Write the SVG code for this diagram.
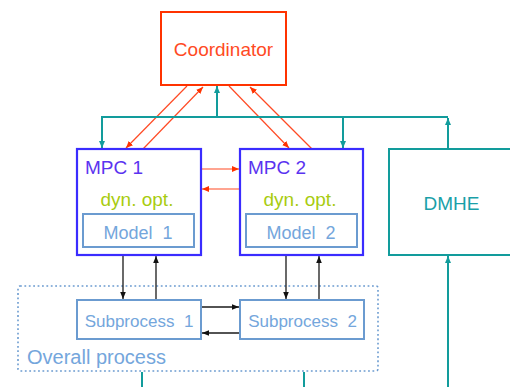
<svg xmlns="http://www.w3.org/2000/svg" width="510" height="387" viewBox="0 0 510 387">
  <style>
    .lbl { font-family: "Liberation Sans", Arial, sans-serif; }
    .coord { fill: #fff; stroke: #ff3300; stroke-width: 2; }
    .mpc { fill: #fff; stroke: #3a2cff; stroke-width: 2.2; }
    .model { fill: #fff; stroke: #6b9bd0; stroke-width: 2; }
    .dmhe { fill: #fff; stroke: #129c9c; stroke-width: 2; }
    .area { fill: none; stroke: #6b9bd0; stroke-width: 1.6; stroke-dasharray: 1.8 2.6; }
    .red { stroke: #ff4a24; stroke-width: 1.2; fill: none; }
    .teal { stroke: #129c9c; stroke-width: 2; fill: none; }
    .blk { stroke: #1a1a1a; stroke-width: 1.3; fill: none; }
  </style>
  <defs>
    <marker id="ahRed" markerUnits="userSpaceOnUse" markerWidth="8" markerHeight="8" refX="7" refY="4" orient="auto">
      <path d="M0,1 L7,4 L0,7 Z" fill="#ff3300"/>
    </marker>
    <marker id="ahTeal" markerUnits="userSpaceOnUse" markerWidth="8" markerHeight="8" refX="7" refY="4" orient="auto">
      <path d="M0,1 L7,4 L0,7 Z" fill="#129c9c"/>
    </marker>
    <marker id="ahBlk" markerUnits="userSpaceOnUse" markerWidth="8" markerHeight="8" refX="7" refY="4" orient="auto">
      <path d="M0,1.2 L7,4 L0,6.8 Z" fill="#111"/>
    </marker>
  </defs>

  <!-- process boundary -->
  <g id="overall-process">
    <rect class="area" x="18" y="286" width="360" height="85" rx="2"/>
    <text class="lbl" x="27" y="364" font-size="20" fill="#74a6dc">Overall process</text>
  </g>

  <g id="connectors">
    <!-- coordinator <-> local controllers -->
    <line class="red" x1="187" y1="86" x2="126" y2="148" marker-end="url(#ahRed)"/>
    <line class="red" x1="143" y1="149" x2="203" y2="87" marker-end="url(#ahRed)"/>
    <line class="red" x1="229" y1="86" x2="289" y2="148" marker-end="url(#ahRed)"/>
    <line class="red" x1="312" y1="149" x2="250" y2="87" marker-end="url(#ahRed)"/>
    <!-- controller to controller -->
    <line class="red" x1="202" y1="169" x2="239" y2="169" marker-end="url(#ahRed)"/>
    <line class="red" x1="239" y1="189" x2="202" y2="189" marker-end="url(#ahRed)"/>
    <!-- estimator broadcast bus -->
    <polyline class="teal" points="102,148 102,117 448,117"/>
    <line class="teal" x1="102" y1="130" x2="102" y2="148" marker-end="url(#ahTeal)"/>
    <line class="teal" x1="217" y1="117" x2="217" y2="86" marker-end="url(#ahTeal)"/>
    <line class="teal" x1="343" y1="117" x2="343" y2="148" marker-end="url(#ahTeal)"/>
    <line class="teal" x1="448" y1="149" x2="448" y2="118" marker-end="url(#ahTeal)"/>
    <!-- measurements from plant -->
    <line class="teal" x1="142" y1="372" x2="142" y2="387"/>
    <line class="teal" x1="304" y1="372" x2="304" y2="387"/>
    <line class="teal" x1="448" y1="387" x2="448" y2="256" marker-end="url(#ahTeal)"/>
    <!-- controller <-> subprocess -->
    <line class="blk" x1="123" y1="256" x2="123" y2="299" marker-end="url(#ahBlk)"/>
    <line class="blk" x1="156" y1="299" x2="156" y2="256" marker-end="url(#ahBlk)"/>
    <line class="blk" x1="286" y1="256" x2="286" y2="299" marker-end="url(#ahBlk)"/>
    <line class="blk" x1="319" y1="299" x2="319" y2="256" marker-end="url(#ahBlk)"/>
    <!-- subprocess interaction -->
    <line class="blk" x1="202" y1="307" x2="239" y2="307" marker-end="url(#ahBlk)"/>
    <line class="blk" x1="239" y1="333" x2="202" y2="333" marker-end="url(#ahBlk)"/>
  </g>

  <g id="coordinator">
    <rect class="coord" x="161" y="12" width="125" height="73"/>
    <text class="lbl" x="223.5" y="56" font-size="19" fill="#ff4a24" text-anchor="middle">Coordinator</text>
  </g>

  <g id="mpc1">
    <rect class="mpc" x="77" y="149" width="124" height="106"/>
    <text class="lbl" x="85" y="173.5" font-size="19" fill="#5a33f0">MPC 1</text>
    <text class="lbl" x="137" y="206" font-size="19" fill="#a8cc10" text-anchor="middle">dyn. opt.</text>
  </g>
  <g id="model1">
    <rect class="model" x="83" y="214" width="111" height="33"/>
    <text class="lbl" x="138" y="239" font-size="18" fill="#74a6dc" text-anchor="middle" xml:space="preserve">Model  1</text>
  </g>

  <g id="mpc2">
    <rect class="mpc" x="240" y="149" width="123" height="106"/>
    <text class="lbl" x="248" y="173.5" font-size="19" fill="#5a33f0">MPC 2</text>
    <text class="lbl" x="300" y="206" font-size="19" fill="#a8cc10" text-anchor="middle">dyn. opt.</text>
  </g>
  <g id="model2">
    <rect class="model" x="246" y="214" width="111" height="33"/>
    <text class="lbl" x="301" y="239" font-size="18" fill="#74a6dc" text-anchor="middle" xml:space="preserve">Model  2</text>
  </g>

  <g id="dmhe">
    <rect class="dmhe" x="389" y="149" width="130" height="106"/>
    <text class="lbl" x="451.5" y="210" font-size="19" fill="#1a9fa8" text-anchor="middle">DMHE</text>
  </g>

  <g id="subprocess1">
    <rect class="model" x="77" y="300" width="124" height="39"/>
    <text class="lbl" x="139" y="326.5" font-size="17" fill="#74a6dc" text-anchor="middle" xml:space="preserve">Subprocess  1</text>
  </g>
  <g id="subprocess2">
    <rect class="model" x="240" y="300" width="124" height="39"/>
    <text class="lbl" x="302.5" y="326.5" font-size="17" fill="#74a6dc" text-anchor="middle" xml:space="preserve">Subprocess  2</text>
  </g>
</svg>
